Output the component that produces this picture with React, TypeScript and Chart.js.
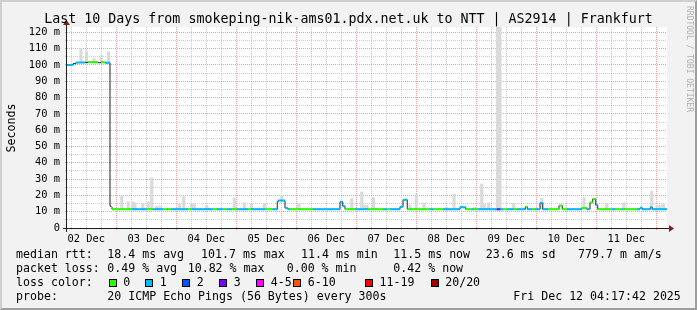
import React, { useEffect, useRef } from 'react';
import { Chart, registerables } from 'chart.js';

Chart.register(...registerables);

// time axis: hours since 02 Dec 00:00 (graph covers 02 Dec 04:17:42 .. 12 Dec 04:17:42)
const X_MIN = 4.295;
const X_MAX = 244.295;
const Y_MAX = 123.3;

const dayLabels = ['02 Dec', '03 Dec', '04 Dec', '05 Dec', '06 Dec', '07 Dec', '08 Dec', '09 Dec', '10 Dec', '11 Dec'];
const yLabelSuffix = ' m';

// median rtt (ms) as step runs: start hour, value, loss bucket (-1 = only black median line)
const medianStart = [
  4.3, 6.7, 7.9, 11.5, 12.7, 16.7, 17.9, 19.5, 21.5, 21.9, 22.3, 30.2, 36.2, 38.6, 42.8, 44.2, 44.7, 45.9,
  52.7, 54.2, 62.7, 64.2, 66.7, 68.2, 70.2, 72.2, 76.8, 77.9, 83.5, 86.4, 88.4, 88.8, 91.5, 92.6, 93.5,
  102.7, 113.5, 114.6, 115.5, 119.5, 124.8, 130.8, 132.2, 133.5, 137.5, 138.7, 140.4, 149.5, 150.8, 154.7,
  161.5, 163.8, 166.2, 166.7, 168.7, 176.2, 177.5, 178.8, 180.2, 182.8, 184.2, 187.6, 188.4, 190.4, 191.5,
  193.5, 194.6, 196.8, 201.1, 202.4, 204.2, 210.2, 212.2, 213.5, 214.6, 215.8, 216.6, 222.2, 223.5, 226.2,
  226.8, 232.2, 233.5, 234.4, 237.6, 238.4,
];
const medianValue = [
  100.0, 100.8, 101.5, 101.6, 101.7, 101.4, 101.6, 101.4, 13.4, 12.9, 11.5, 11.5, 11.5, 11.5, 11.5, 11.5, 11.5, 11.5,
  11.5, 11.5, 11.5, 11.5, 11.5, 11.5, 11.5, 11.5, 11.5, 11.5, 11.5, 11.5, 16.2, 16.8, 12.2, 11.5, 11.5,
  11.5, 16.1, 13.4, 11.5, 11.5, 11.5, 11.5, 11.5, 11.5, 13.0, 17.3, 11.5, 11.5, 11.5, 11.5,
  12.7, 11.5, 11.5, 11.5, 11.5, 11.5, 11.5, 11.5, 11.5, 11.5, 11.5, 13.0, 11.5, 11.5, 11.5,
  15.3, 11.5, 11.5, 13.8, 11.5, 11.5, 12.2, 11.5, 15.7, 17.8, 14.0, 11.5, 11.5, 11.5, 11.5,
  11.5, 11.5, 12.4, 11.5, 12.7, 11.5,
];
const medianLoss = [
  1, -1, 1, -1, 0, -1, 0, 1, -1, 0, 0, 1, 0, 1, 0, 1, 0, 1,
  0, 1, 0, 1, 0, 1, 0, 1, 0, 1, 0, 1, 1, 1, 1, 1, 0,
  1, 1, 1, 0, 1, 0, 1, 0, 1, 1, 1, 0, 1, 0, 1,
  1, 0, 1, 0, 1, 3, 1, 0, 1, 0, 1, 0, 1, 0, 1,
  1, 1, 0, 0, 0, 1, 0, 1, 0, 0, 1, 0, 1, 0, 1,
  0, 1, 1, 1, 1, 1,
];

// smoke (ping spread) bars: centre hour, low and high (ms)
const smokeHour = [
  9.9, 12.1, 15.1, 18.0, 20.9, 26.2, 28.8, 30.6, 31.5, 34.6, 36.8, 38.2, 40.2, 41.5, 49.3, 51.0, 54.1, 55.2,
  60.2, 71.2, 75.2, 78.1, 83.2, 90.2, 97.1, 118.2, 122.2, 123.3, 124.3, 126.9, 141.5, 144.0, 147.1, 156.2,
  159.1, 167.5, 170.2, 171.3, 173.0, 176.5, 177.5, 183.0, 194.2, 211.1, 220.2, 227.0, 238.2, 240.3, 241.5, 242.9,
];
const smokeLow = [
  101.6, 101.7, 101.7, 101.6, 101.4, 11.5, 11.5, 11.5, 11.5, 11.5, 11.5, 11.5, 11.5, 11.5, 11.5, 11.5, 11.5, 11.5,
  11.5, 11.5, 11.5, 11.5, 11.5, 16.8, 11.5, 11.5, 11.5, 11.5, 11.5, 11.5, 11.5, 11.5, 11.5, 11.5,
  11.5, 11.5, 11.5, 11.5, 11.5, 11.0, 11.0, 11.5, 11.5, 11.5, 11.5, 11.5, 11.5, 11.5, 11.5, 11.5,
];
const smokeHigh = [
  110.2, 108.7, 104.0, 106.0, 108.1, 19.7, 16.1, 16.0, 15.5, 15.0, 16.0, 30.8, 13.5, 13.5, 14.5, 19.2, 14.7, 15.0,
  14.0, 18.4, 15.5, 15.0, 15.2, 19.6, 15.2, 18.0, 22.2, 14.0, 14.0, 18.6, 14.2, 20.8, 15.5, 12.7,
  20.7, 12.7, 27.0, 14.5, 15.5, 150.0, 150.0, 15.2, 18.2, 18.6, 15.2, 15.5, 22.6, 14.0, 14.0, 14.5,
];

const lossColors = ['#26ff00', '#00b8ff', '#0059ff', '#7e00ff', '#ff00ff', '#ff5500', '#ff0000', '#a00000'];
const lossLabels = ['0', '1', '2', '3', '4-5', '6-10', '11-19', '20/20'];
const lossBoxX = [108.7, 145.3, 182.3, 219.3, 256.3, 293.3, 365, 430.7];

const titleText = 'Last 10 Days from smokeping-nik-ams01.pdx.net.uk to NTT | AS2914 | Frankfurt';
const row1 = [
  [16, 'median rtt:'], [107.3, '18.4 ms avg'], [201, '101.7 ms max'], [301, '11.4 ms min'],
  [393.3, '11.5 ms now'], [485.7, '23.6 ms sd'], [578, '779.7 m am/s'],
];
const row2 = [
  [16, 'packet loss:'], [107.3, '0.49 % avg'], [187.7, '10.82 % max'], [286.7, '0.00 % min'], [393.3, '0.42 % now'],
];
const row4 = [
  [16, 'probe:'], [107.3, '20 ICMP Echo Pings (56 Bytes) every 300s'], [513.3, 'Fri Dec 12 04:17:42 2025'],
];

const MONO = '"DejaVu Sans Mono", monospace';
const GRID = 'rgba(143,143,143,0.45)';
const MGRID = 'rgba(222,79,79,0.55)';

const rrdPlugin = {
  id: 'rrdFrame',
  beforeDraw(chart: any) {
    const { ctx, chartArea: a } = chart;
    ctx.save();
    ctx.fillStyle = '#ffffff';
    ctx.fillRect(a.left, a.top, a.right - a.left, a.bottom - a.top);
    ctx.restore();
  },
  afterDatasetsDraw(chart: any) {
    const { ctx, chartArea: a } = chart;
    ctx.save();
    ctx.strokeStyle = '#1f1f1f';
    ctx.lineWidth = 1;
    ctx.beginPath();
    ctx.moveTo(a.left - 4, a.bottom + 0.5);
    ctx.lineTo(a.right + 4, a.bottom + 0.5);
    ctx.moveTo(a.left - 0.5, a.bottom + 4);
    ctx.lineTo(a.left - 0.5, a.top - 4);
    ctx.stroke();
    ctx.fillStyle = '#801f1f';
    ctx.beginPath();
    ctx.moveTo(a.right + 2, a.bottom - 3);
    ctx.lineTo(a.right + 2, a.bottom + 4);
    ctx.lineTo(a.right + 7, a.bottom + 0.5);
    ctx.closePath();
    ctx.fill();
    ctx.beginPath();
    ctx.moveTo(a.left - 4, a.top - 2);
    ctx.lineTo(a.left + 3, a.top - 2);
    ctx.lineTo(a.left - 0.5, a.top - 7);
    ctx.closePath();
    ctx.fill();
    ctx.restore();
  },
};

export default function App() {
  const ref = useRef<HTMLCanvasElement>(null);

  useEffect(() => {
    const canvas = ref.current;
    if (!canvas) return;

    const ends = medianStart.slice(1).concat([X_MAX]);
    const datasets: any[] = [];
    for (let c = 0; c < lossColors.length; c++) {
      const pts: any[] = [];
      medianStart.forEach((s, i) => {
        if (medianLoss[i] !== c) return;
        pts.push({ x: s, y: medianValue[i] }, { x: ends[i], y: medianValue[i] }, { x: ends[i], y: null });
      });
      if (pts.length) {
        datasets.push({
          type: 'line', data: pts, borderColor: lossColors[c], borderWidth: 2, pointRadius: 0,
          spanGaps: false, order: 0, borderCapStyle: 'butt', tension: 0,
        });
      }
    }
    datasets.push({
      type: 'line',
      data: medianStart.map((s, i) => ({ x: s, y: medianValue[i] }))
        .concat([{ x: X_MAX, y: medianValue[medianValue.length - 1] }]),
      stepped: 'before', borderColor: '#202020', borderWidth: 1, pointRadius: 0, order: 1,
    });
    datasets.push({
      type: 'bar',
      data: smokeHour.map((h, i) => ({ x: h, y: [smokeLow[i], smokeHigh[i]] })),
      backgroundColor: '#dadada', borderWidth: 0, barThickness: 2.5, order: 2,
    });

    const xTicks: any[] = [];
    for (let h = 6; h <= 240; h += 6) xTicks.push({ value: h });
    const yTicks: any[] = [];
    for (let v = 0; v <= 120; v += 5) yTicks.push({ value: v });

    const chart = new Chart(canvas, {
      type: 'line',
      data: { datasets },
      plugins: [rrdPlugin],
      options: {
        animation: false,
        responsive: false,
        devicePixelRatio: 1,
        layout: { padding: { top: 27, right: 30, left: 0, bottom: 0 } },
        plugins: { legend: { display: false }, tooltip: { enabled: false }, title: { display: false } },
        scales: {
          x: {
            type: 'linear', min: X_MIN, max: X_MAX, offset: false,
            afterBuildTicks: (s: any) => { s.ticks = xTicks.map((t) => ({ value: t.value })); },
            afterFit: (s: any) => { s.height = 82; },
            grid: {
              offset: false, lineWidth: 1, drawTicks: true, tickLength: 2,
              color: (c: any) => (c.tick && c.tick.value % 24 === 0 ? MGRID : GRID),
              tickColor: (c: any) => (c.tick && c.tick.value % 24 === 0 ? MGRID : GRID),
            },
            border: { display: false, dash: [1, 1] },
            ticks: {
              autoSkip: false, maxRotation: 0, minRotation: 0, padding: 3, color: '#000',
              font: { family: MONO, size: 10.4 },
              callback: (v: any) => {
                const h = Number(v);
                return h % 24 === 12 ? dayLabels[(h - 12) / 24] : '';
              },
            },
          },
          y: {
            type: 'linear', min: 0, max: Y_MAX,
            afterBuildTicks: (s: any) => { s.ticks = yTicks.map((t) => ({ value: t.value })); },
            afterFit: (s: any) => { s.width = 67; },
            grid: {
              lineWidth: 1, drawTicks: true, tickLength: 2,
              color: (c: any) => (c.tick && c.tick.value % 10 === 0 ? MGRID : GRID),
              tickColor: (c: any) => (c.tick && c.tick.value % 10 === 0 ? MGRID : GRID),
            },
            border: { display: false, dash: [1, 1] },
            ticks: {
              autoSkip: false, padding: 5, color: '#000',
              font: { family: MONO, size: 10.4 },
              callback: (v: any) => {
                const n = Number(v);
                if (n % 10 !== 0) return '';
                return n === 0 ? '0' : n + yLabelSuffix;
              },
            },
          },
        },
      } as any,
    });
    return () => chart.destroy();
  }, []);

  const textStyle = (x: number, top: number): React.CSSProperties => ({
    position: 'absolute', left: x, top, whiteSpace: 'pre', font: `11.6px ${MONO}`, lineHeight: '14px', color: '#000',
  });

  return (
    <div style={{ position: 'fixed', left: 0, top: 0, width: 697, height: 310, background: '#f2f2f2', overflow: 'hidden' }}>
      <div style={{
        position: 'absolute', left: 0, top: 0, width: 697, height: 310, boxSizing: 'border-box',
        borderTop: '2px solid #cfcfcf', borderLeft: '2px solid #cfcfcf',
        borderRight: '2px solid #9e9e9e', borderBottom: '2px solid #9e9e9e',
      }} />
      <canvas ref={ref} width={697} height={310} style={{ position: 'absolute', left: 0, top: 0 }} />
      <div style={{
        position: 'absolute', left: 0, top: 11, width: 697, textAlign: 'center', whiteSpace: 'pre',
        font: `13.3px ${MONO}`, lineHeight: '16px', color: '#000',
      }}>{titleText}</div>
      <div style={{
        position: 'absolute', left: 10.5 - 60, top: 127.5 - 7, width: 120, height: 14, textAlign: 'center',
        font: `11.6px ${MONO}`, lineHeight: '14px', transform: 'rotate(-90deg)', color: '#000',
      }}>Seconds</div>
      <div style={{
        position: 'absolute', left: 689 - 60, top: 59 - 5, width: 120, height: 10, textAlign: 'center',
        font: `8px ${MONO}`, lineHeight: '10px', transform: 'rotate(90deg)', color: '#b0b0b0', whiteSpace: 'pre',
      }}>RRDTOOL / TOBI OETIKER</div>
      {row1.map(([x, t], i) => <div key={'r1' + i} style={textStyle(x as number, 247)}>{t}</div>)}
      {row2.map(([x, t], i) => <div key={'r2' + i} style={textStyle(x as number, 261)}>{t}</div>)}
      <div style={textStyle(16, 275)}>loss color:</div>
      {lossLabels.map((l, i) => (
        <React.Fragment key={'lc' + i}>
          <div style={{
            position: 'absolute', left: lossBoxX[i], top: 278.5, width: 8, height: 8, boxSizing: 'border-box',
            border: '1px solid #000', background: lossColors[i],
          }} />
          <div style={textStyle(lossBoxX[i] + 14.5, 275)}>{l}</div>
        </React.Fragment>
      ))}
      {row4.map(([x, t], i) => <div key={'r4' + i} style={textStyle(x as number, 289)}>{t}</div>)}
    </div>
  );
}
